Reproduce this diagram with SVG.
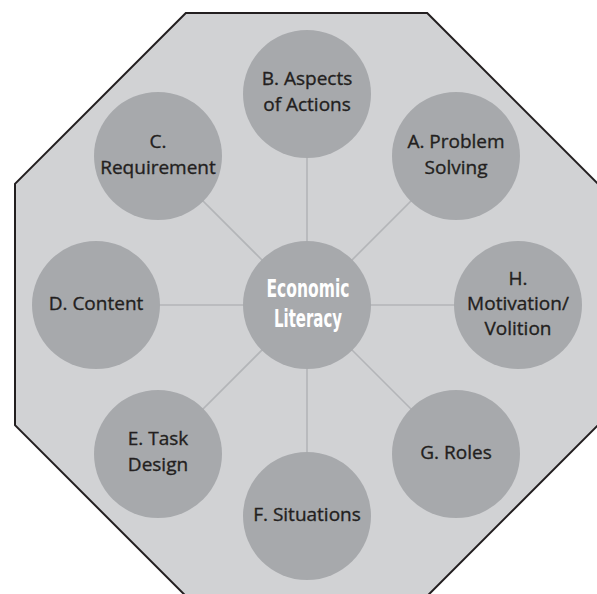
<svg xmlns="http://www.w3.org/2000/svg" width="597" height="594" viewBox="0 0 597 594">
<style>
.oct{fill:#d1d2d4;stroke:#231f20;stroke-width:2}
.node{fill:#a7a9ac}
.conn line{stroke:#b3b5b8;stroke-width:1.6}
.lbl{font-family:'Open Sans','Noto Sans','Liberation Sans',sans-serif;font-size:19px;font-weight:400;fill:#231f20;stroke:#231f20;stroke-width:0.35;text-anchor:middle}
.ctr{font-family:'Liberation Sans Narrow','DejaVu Sans Condensed','Liberation Sans',sans-serif;font-stretch:condensed;font-weight:bold;font-size:24px;fill:#ffffff;text-anchor:middle}
</style>
<rect width="597" height="594" fill="#ffffff"/>
<polygon class="oct" points="185.8,13 427.2,13 598,183.8 598,425.2 427.2,596 185.8,596 15,425.2 15,183.8"/>
<g id="connectors" class="conn">
<line x1="307" y1="305" x2="307" y2="94"/>
<line x1="307" y1="305" x2="456" y2="156"/>
<line x1="307" y1="305" x2="518" y2="305"/>
<line x1="307" y1="305" x2="456" y2="454"/>
<line x1="307" y1="305" x2="307" y2="516"/>
<line x1="307" y1="305" x2="158" y2="454"/>
<line x1="307" y1="305" x2="96" y2="305"/>
<line x1="307" y1="305" x2="158" y2="156"/>
</g>
<g id="center">
<circle class="node" cx="307" cy="305" r="64"/>
<text class="ctr" x="308" y="297" textLength="83" lengthAdjust="spacingAndGlyphs">Economic</text>
<text class="ctr" x="308" y="327" textLength="68" lengthAdjust="spacingAndGlyphs">Literacy</text>
</g>
<g id="nodeB">
<circle class="node" cx="307" cy="94" r="64"/>
<text class="lbl" x="307" y="85">B. Aspects</text>
<text class="lbl" x="307" y="111">of Actions</text>
</g>
<g id="nodeA">
<circle class="node" cx="456" cy="156" r="64"/>
<text class="lbl" x="456" y="148">A. Problem</text>
<text class="lbl" x="456" y="174">Solving</text>
</g>
<g id="nodeH">
<circle class="node" cx="518" cy="305" r="64"/>
<text class="lbl" x="518" y="285">H.</text>
<text class="lbl" x="518" y="310">Motivation/</text>
<text class="lbl" x="518" y="335">Volition</text>
</g>
<g id="nodeG">
<circle class="node" cx="456" cy="454" r="64"/>
<text class="lbl" x="456" y="459">G. Roles</text>
</g>
<g id="nodeF">
<circle class="node" cx="307" cy="516" r="64"/>
<text class="lbl" x="307" y="521">F. Situations</text>
</g>
<g id="nodeE">
<circle class="node" cx="158" cy="454" r="64"/>
<text class="lbl" x="158" y="445">E. Task</text>
<text class="lbl" x="158" y="471">Design</text>
</g>
<g id="nodeD">
<circle class="node" cx="96" cy="305" r="64"/>
<text class="lbl" x="96" y="310">D. Content</text>
</g>
<g id="nodeC">
<circle class="node" cx="158" cy="156" r="64"/>
<text class="lbl" x="158" y="148">C.</text>
<text class="lbl" x="158" y="174">Requirement</text>
</g>
</svg>
